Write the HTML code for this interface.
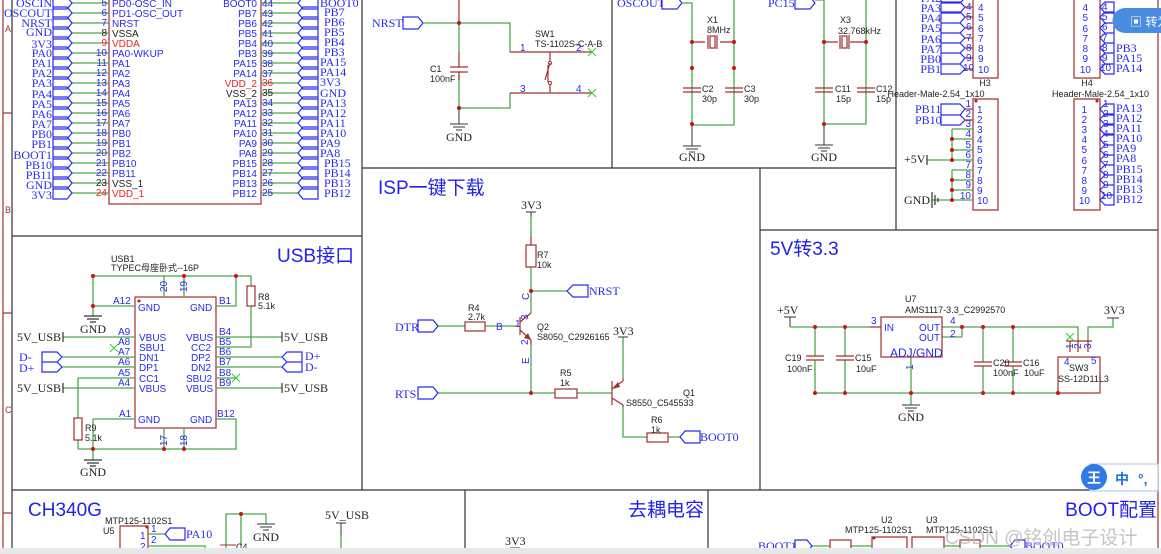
<!DOCTYPE html>
<html><head><meta charset="utf-8"><style>
html,body{margin:0;padding:0;background:#fff;width:1161px;height:554px;overflow:hidden}
svg{display:block}
.n{font-family:"Liberation Serif",serif;font-size:12px;fill:#2a2aee}
.p{font-family:"Liberation Sans","Noto Sans CJK SC",sans-serif;font-size:10px;fill:#2a2aee}
.s{font-family:"Liberation Sans","Noto Sans CJK SC",sans-serif;font-size:9px;fill:#222}
.k{font-family:"Liberation Serif",serif;font-size:12px;fill:#222}
.t{font-family:"Liberation Sans","Noto Sans CJK SC",sans-serif;font-size:19px;fill:#2222ee}
.w{stroke:#4aa84a;stroke-width:1.3;fill:none}
.m{stroke:#a03030;stroke-width:1.2;fill:none}
.b{stroke:#2a2aee;stroke-width:1.2;fill:#fff}
.d{fill:#cc1111}
.f{stroke:#333;stroke-width:1.2;fill:none}
</style></head><body>
<svg width="1161" height="554" viewBox="0 0 1161 554" xmlns="http://www.w3.org/2000/svg">
<!-- frame -->
<g class="f">
<line x1="3" y1="0" x2="3" y2="554" stroke="#a03030"/>
<line x1="12" y1="0" x2="12" y2="554"/>
<line x1="3" y1="113" x2="12" y2="113" stroke="#a03030"/>
<line x1="3" y1="313" x2="12" y2="313" stroke="#a03030"/>
<line x1="3" y1="513" x2="12" y2="513" stroke="#a03030"/>
<line x1="1158" y1="0" x2="1158" y2="554" stroke="#a03030"/>
<line x1="12" y1="236" x2="362" y2="236"/>
<line x1="362" y1="0" x2="362" y2="490"/>
<line x1="612" y1="0" x2="612" y2="168"/>
<line x1="362" y1="168" x2="896" y2="168"/>
<line x1="896" y1="0" x2="896" y2="230"/>
<line x1="760" y1="168" x2="760" y2="490"/>
<line x1="760" y1="230" x2="1158" y2="230"/>
<line x1="12" y1="490" x2="1158" y2="490"/>
<line x1="465" y1="490" x2="465" y2="554"/>
<line x1="708" y1="490" x2="708" y2="554"/>
</g>
<text x="5" y="32" class="s" style="fill:#a03030">A</text>
<text x="5" y="213" class="s" style="fill:#a03030">B</text>
<text x="5" y="413" class="s" style="fill:#a03030">C</text>

<!-- MCU -->
<rect x="109" y="-4" width="152" height="208" class="m"/>
<g class="w">
<path d="M72 3H109M72 13H109M72 23H109M72 33H109M72 43H109M72 53H109M72 63H109M72 73H109M72 83H109M72 93H109M72 103H109M72 113H109M72 123H109M72 133H109M72 143H109M72 153H109M72 163H109M72 173H109M72 183H109M72 193H109"/>
<path d="M261 3H298M261 13H298M261 23H298M261 33H298M261 43H298M261 53H298M261 63H298M261 73H298M261 83H298M261 93H298M261 103H298M261 113H298M261 123H298M261 133H298M261 143H298M261 153H298M261 163H298M261 173H298M261 183H298M261 193H298"/>
</g>
<g class="b">
<path d="M53 -3H67L72 3L67 9H53ZM53 7H67L72 13L67 19H53ZM53 17H67L72 23L67 29H53ZM53 27H67L72 33L67 39H53ZM53 37H67L72 43L67 49H53ZM53 47H67L72 53L67 59H53ZM53 57H67L72 63L67 69H53ZM53 67H67L72 73L67 79H53ZM53 77H67L72 83L67 89H53ZM53 87H67L72 93L67 99H53ZM53 97H67L72 103L67 109H53ZM53 107H67L72 113L67 119H53ZM53 117H67L72 123L67 129H53ZM53 127H67L72 133L67 139H53ZM53 137H67L72 143L67 149H53ZM53 147H67L72 153L67 159H53ZM53 157H67L72 163L67 169H53ZM53 167H67L72 173L67 179H53ZM53 177H67L72 183L67 189H53ZM53 187H67L72 193L67 199H53Z"/>
<path d="M318 -3H303L298 3L303 9H318ZM318 7H303L298 13L303 19H318ZM318 17H303L298 23L303 29H318ZM318 27H303L298 33L303 39H318ZM318 37H303L298 43L303 49H318ZM318 47H303L298 53L303 59H318ZM318 57H303L298 63L303 69H318ZM318 67H303L298 73L303 79H318ZM318 77H303L298 83L303 89H318ZM318 87H303L298 93L303 99H318ZM318 97H303L298 103L303 109H318ZM318 107H303L298 113L303 119H318ZM318 117H303L298 123L303 129H318ZM318 127H303L298 133L303 139H318ZM318 137H303L298 143L303 149H318ZM318 147H303L298 153L303 159H318ZM318 157H303L298 163L303 169H318ZM318 167H303L298 173L303 179H318ZM318 177H303L298 183L303 189H318ZM318 187H303L298 193L303 199H318Z"/>
</g>
<g class="n" text-anchor="end">
<text x="52" y="7">OSCIN</text><text x="52" y="17">OSCOUT</text><text x="52" y="27">NRST</text><text x="52" y="36">GND</text><text x="52" y="48">3V3</text><text x="52" y="57">PA0</text><text x="52" y="67">PA1</text><text x="52" y="77">PA2</text><text x="52" y="87">PA3</text><text x="52" y="98">PA4</text><text x="52" y="108">PA5</text><text x="52" y="118">PA6</text><text x="52" y="128">PA7</text><text x="52" y="138">PB0</text><text x="52" y="148">PB1</text><text x="52" y="159">BOOT1</text><text x="52" y="169">PB10</text><text x="52" y="179">PB11</text><text x="52" y="189">GND</text><text x="52" y="199">3V3</text>
</g>
<g class="n">
<text x="320" y="7">BOOT0</text><text x="324" y="16">PB7</text><text x="324" y="26">PB6</text><text x="324" y="36">PB5</text><text x="324" y="46">PB4</text><text x="324" y="56">PB3</text><text x="320" y="66">PA15</text><text x="320" y="76">PA14</text><text x="320" y="86">3V3</text><text x="320" y="97">GND</text><text x="320" y="107">PA13</text><text x="320" y="117">PA12</text><text x="320" y="127">PA11</text><text x="320" y="137">PA10</text><text x="320" y="147">PA9</text><text x="320" y="157">PA8</text><text x="324" y="167">PB15</text><text x="324" y="177">PB14</text><text x="324" y="187">PB13</text><text x="324" y="197">PB12</text>
</g>
<g class="p" text-anchor="end">
<text x="107" y="6">5</text><text x="107" y="16">6</text><text x="107" y="26">7</text><text x="107" y="36" style="fill:#222">8</text><text x="107" y="46" style="fill:#e22">9</text><text x="107" y="56">10</text><text x="107" y="66">11</text><text x="107" y="76">12</text><text x="107" y="86">13</text><text x="107" y="96">14</text><text x="107" y="106">15</text><text x="107" y="116">16</text><text x="107" y="126">17</text><text x="107" y="136">18</text><text x="107" y="146">19</text><text x="107" y="156">20</text><text x="107" y="166">21</text><text x="107" y="176">22</text><text x="107" y="186" style="fill:#222">23</text><text x="107" y="196" style="fill:#e22">24</text>
<text x="257" y="7">BOOT0</text><text x="257" y="17">PB7</text><text x="257" y="27">PB6</text><text x="257" y="37">PB5</text><text x="257" y="47">PB4</text><text x="257" y="57">PB3</text><text x="257" y="67">PA15</text><text x="257" y="77">PA14</text><text x="257" y="87" style="fill:#e22">VDD_2</text><text x="257" y="97" style="fill:#222">VSS_2</text><text x="257" y="107">PA13</text><text x="257" y="117">PA12</text><text x="257" y="127">PA11</text><text x="257" y="137">PA10</text><text x="257" y="147">PA9</text><text x="257" y="157">PA8</text><text x="257" y="167">PB15</text><text x="257" y="177">PB14</text><text x="257" y="187">PB13</text><text x="257" y="197">PB12</text>
</g>
<g class="p">
<text x="112" y="7">PD0-OSC_IN</text><text x="112" y="17">PD1-OSC_OUT</text><text x="112" y="27">NRST</text><text x="112" y="37" style="fill:#222">VSSA</text><text x="112" y="47" style="fill:#e22">VDDA</text><text x="112" y="57">PA0-WKUP</text><text x="112" y="67">PA1</text><text x="112" y="77">PA2</text><text x="112" y="87">PA3</text><text x="112" y="97">PA4</text><text x="112" y="107">PA5</text><text x="112" y="117">PA6</text><text x="112" y="127">PA7</text><text x="112" y="137">PB0</text><text x="112" y="147">PB1</text><text x="112" y="157">PB2</text><text x="112" y="167">PB10</text><text x="112" y="177">PB11</text><text x="112" y="187" style="fill:#222">VSS_1</text><text x="112" y="197" style="fill:#e22">VDD_1</text>
<text x="262" y="7">44</text><text x="262" y="17">43</text><text x="262" y="27">42</text><text x="262" y="37">41</text><text x="262" y="47">40</text><text x="262" y="57">39</text><text x="262" y="67">38</text><text x="262" y="77">37</text><text x="262" y="86" style="fill:#e22">36</text><text x="262" y="96" style="fill:#222">35</text><text x="262" y="106">34</text><text x="262" y="116">33</text><text x="262" y="126">32</text><text x="262" y="136">31</text><text x="262" y="146">30</text><text x="262" y="156">29</text><text x="262" y="166">28</text><text x="262" y="176">27</text><text x="262" y="186">26</text><text x="262" y="196">25</text>
</g>

<!-- USB -->
<text x="277" y="262" class="t">USB接口</text>
<text x="111" y="262" class="s">USB1</text><text x="111" y="271" class="s">TYPEC母座卧式--16P</text>
<rect x="135" y="297" width="81" height="131" class="m"/>
<circle cx="139" cy="301" r="1.5" class="d"/>
<g class="w">
<path d="M93 276H236V306H216M93 276V316M93 306H135M164 276V297M184 276V297M236 276H251V286M251 306V347H216"/>
<path d="M63 337H135M135 388H63M42 357H135M42 367H135M78 378H135M78 378V418M78 440V449H236V419H216M93 419H135M93 419V460M164 428V449M184 428V449"/>
<path d="M216 337H282M216 357H282M216 367H282M216 388H282M216 378H237"/>
</g>
<rect x="247" y="286" width="8" height="20" class="m"/>
<rect x="74" y="418" width="8" height="22" class="m"/>
<g class="d"><circle cx="93" cy="276" r="2"/><circle cx="184" cy="276" r="2"/><circle cx="236" cy="276" r="2"/><circle cx="93" cy="306" r="2"/><circle cx="93" cy="449" r="2"/><circle cx="164" cy="449" r="2"/><circle cx="184" cy="449" r="2"/></g>
<g stroke="#333" stroke-width="1.2"><path d="M84 316H102M87 319H99M90 322H96M84 460H102M87 463H99M90 466H96M63 332V342M63 383V393M282 332V342M282 383V393"/></g>
<g stroke="#3c3" stroke-width="1"><path d="M110 344L118 352M118 344L110 352M232 374L240 382M240 374L232 382"/></g>
<text x="93" y="333" class="k" text-anchor="middle">GND</text><text x="93" y="476" class="k" text-anchor="middle">GND</text>
<text x="17" y="341" class="k">5V_USB</text><text x="17" y="392" class="k">5V_USB</text><text x="284" y="341" class="k">5V_USB</text><text x="284" y="392" class="k">5V_USB</text>
<g class="b"><path d="M42 352H57L62 357L57 362H42ZM42 362H57L62 367L57 372H42ZM302 352H287L282 357L287 362H302ZM302 362H287L282 367L287 372H302Z"/></g>
<text x="19" y="361" class="n">D-</text><text x="19" y="372" class="n">D+</text><text x="305" y="360" class="n">D+</text><text x="305" y="371" class="n">D-</text>
<g class="p">
<text x="113" y="304">A12</text><text x="138" y="311">GND</text><text x="190" y="311">GND</text><text x="219" y="304">B1</text>
<text x="118" y="335">A9</text><text x="118" y="345">A8</text><text x="118" y="355">A7</text><text x="118" y="365">A6</text><text x="118" y="376">A5</text><text x="118" y="386">A4</text>
<text x="139" y="341">VBUS</text><text x="139" y="351">SBU1</text><text x="139" y="361">DN1</text><text x="139" y="371">DP1</text><text x="139" y="382">CC1</text><text x="139" y="392">VBUS</text>
<text x="186" y="341">VBUS</text><text x="191" y="351">CC2</text><text x="191" y="361">DP2</text><text x="191" y="371">DN2</text><text x="186" y="382">SBU2</text><text x="186" y="392">VBUS</text>
<text x="219" y="335">B4</text><text x="219" y="345">B5</text><text x="219" y="355">B6</text><text x="219" y="365">B7</text><text x="219" y="376">B8</text><text x="219" y="386">B9</text>
<text x="119" y="417">A1</text><text x="138" y="423">GND</text><text x="190" y="423">GND</text><text x="217" y="417">B12</text>
</g>
<text x="258" y="300" class="s">R8</text><text x="258" y="309" class="s">5.1k</text>
<text x="85" y="431" class="s">R9</text><text x="85" y="441" class="s">5.1k</text>
<g class="p"><text transform="translate(167,292) rotate(-90)">20</text><text transform="translate(187,292) rotate(-90)">19</text><text transform="translate(167,446) rotate(-90)">17</text><text transform="translate(187,446) rotate(-90)">18</text></g>

<!-- CH340G -->
<text x="28" y="516" class="t">CH340G</text>
<text x="105" y="524" class="s">MTP125-1102S1</text><text x="103" y="534" class="s">U5</text>
<path d="M120 554V526H148V554" class="m"/><circle cx="147" cy="527" r="1.5" class="d"/>
<path d="M148 534H165M148 546H205V554" class="w"/>
<path d="M185 528H170L165 534L170 540H185Z" class="b"/><text x="186" y="538" class="n">PA10</text>
<text x="151" y="532" class="p">1</text><text x="151" y="543" class="p">2</text><text x="140" y="539" class="p">1</text><text x="140" y="550" class="p">2</text>
<path d="M226 554V514H266V524M241 514V554" class="w"/><circle cx="241" cy="514" r="2" class="d"/>
<path d="M257 524H275M260 527H272M263 530H269" stroke="#333"/><text x="266" y="541" class="k" text-anchor="middle">GND</text>
<path d="M220 545H236M220 549H236" stroke="#a03030"/><text x="236" y="550" class="s">C4</text>
<text x="325" y="519" class="k">5V_USB</text><path d="M336 523H346M341 523V554" stroke="#333"/><path d="M341 535V554" class="w"/>

<!-- NRST/SW1 -->
<text x="372" y="27" class="n">NRST</text>
<path d="M403 17H418L423 23L418 29H403Z" class="b"/>
<g class="w"><path d="M423 23H510V52M459 23V52M459 75V108M459 108H510V93"/></g>
<path d="M459 0V23" class="m"/>
<path d="M510 52H592M510 93H592M450 67H468M450 72H468M459 52V67M459 72V80M550 52V61M550 85V93M548 65V82M550 63L545 80" class="m"/>
<circle cx="550" cy="63" r="1.6" fill="none" stroke="#a03030"/><circle cx="550" cy="83" r="1.6" fill="none" stroke="#a03030"/>
<g stroke="#3c3"><path d="M588 48L596 56M596 48L588 56M588 89L596 97M596 89L588 97"/></g>
<g class="d"><circle cx="459" cy="23" r="2"/><circle cx="459" cy="108" r="2"/></g>
<path d="M459 108V124M450 124H468M453 127H465M456 130H462" stroke="#333"/>
<text x="459" y="141" class="k" text-anchor="middle">GND</text>
<text x="430" y="72" class="s">C1</text><text x="430" y="82" class="s">100nF</text>
<text x="535" y="37" class="s">SW1</text><text x="535" y="47" class="s">TS-1102S-C-A-B</text>
<text x="520" y="51" class="p">1</text><text x="576" y="51" class="p">2</text><text x="520" y="92" class="p">3</text><text x="576" y="92" class="p">4</text>

<!-- X1 -->
<text x="617" y="7" class="n">OSCOUT</text>
<path d="M662 -3H677L682 3L677 9H662Z" class="b"/>
<path d="M682 3H692V125H734V0" class="w"/>
<path d="M692 42H705M720 42H734M708 35V49M717 35V49M683 88H701M683 92H701M725 88H743M725 92H743" class="m"/>
<rect x="710" y="36" width="5" height="12" class="m"/>
<g class="d"><circle cx="692" cy="42" r="2"/><circle cx="734" cy="42" r="2"/><circle cx="692" cy="68" r="2"/><circle cx="734" cy="68" r="2"/><circle cx="692" cy="124" r="2"/></g>
<path d="M692 125V146M683 146H701M686 149H698M689 152H695" stroke="#333"/>
<text x="692" y="161" class="k" text-anchor="middle">GND</text>
<text x="707" y="23" class="s">X1</text><text x="707" y="33" class="s">8MHz</text>
<text x="702" y="92" class="s">C2</text><text x="702" y="102" class="s">30p</text><text x="744" y="92" class="s">C3</text><text x="744" y="102" class="s">30p</text>

<!-- X3 -->
<text x="768" y="7" class="n">PC15</text>
<path d="M795 -3H810L815 3L810 9H795Z" class="b"/>
<path d="M815 0H824V124H866V0" class="w"/>
<path d="M824 42H838M850 42H866M840 35V49M849 35V49M815 88H833M815 92H833M857 88H875M857 92H875" class="m"/>
<rect x="842" y="36" width="5" height="12" class="m"/>
<g class="d"><circle cx="824" cy="42" r="2"/><circle cx="866" cy="42" r="2"/><circle cx="824" cy="124" r="2"/></g>
<path d="M824 124V145M815 145H833M818 148H830M821 151H827" stroke="#333"/>
<text x="824" y="161" class="k" text-anchor="middle">GND</text>
<text x="840" y="23" class="s">X3</text><text x="838" y="34" class="s">32.768kHz</text>
<text x="835" y="92" class="s">C11</text><text x="836" y="102" class="s">15p</text><text x="876" y="92" class="s">C12</text><text x="876" y="102" class="s">15p</text>

<!-- H1 -->
<path d="M973 -3V78H998V-3" class="m"/>
<g class="b"><path d="M941 -8H960L965 -2L960 3H941ZM941 2H960L965 7L960 13H941ZM941 12H960L965 17L960 23H941ZM941 23H960L965 28L960 33H941ZM941 33H960L965 38L960 43H941ZM941 43H960L965 48L960 53H941ZM941 53H960L965 58L960 64H941ZM941 64H960L965 69L960 74H941Z"/></g>
<path d="M965 -2H973M965 7H973M965 17H973M965 28H973M965 38H973M965 48H973M965 58H973M965 69H973" class="m"/>
<g class="n" text-anchor="end"><text x="941" y="2">PA2</text><text x="941" y="12">PA3</text><text x="941" y="22">PA4</text><text x="941" y="32">PA5</text><text x="941" y="43">PA6</text><text x="941" y="53">PA7</text><text x="941" y="63">PB0</text><text x="941" y="73">PB1</text></g>
<g class="p"><text x="966" y="10">4</text><text x="966" y="20">5</text><text x="966" y="30">6</text><text x="966" y="41">7</text><text x="966" y="51">8</text><text x="966" y="61">9</text><text x="963" y="71">10</text>
<text x="978" y="11">4</text><text x="978" y="21">5</text><text x="978" y="32">6</text><text x="978" y="42">7</text><text x="978" y="52">8</text><text x="978" y="62">9</text><text x="978" y="73">10</text></g>
<!-- H2 -->
<path d="M1074 -3V78H1100V-3" class="m"/>
<g class="b"><path d="M1114 2H1105L1100 7L1105 13H1114ZM1114 12H1105L1100 17L1105 23H1114ZM1114 23H1105L1100 28L1105 33H1114ZM1114 33H1105L1100 38L1105 43H1114ZM1114 43H1105L1100 48L1105 53H1114ZM1114 53H1105L1100 58L1105 64H1114ZM1114 64H1105L1100 69L1105 74H1114Z"/></g>
<g class="p" text-anchor="end"><text x="1088" y="11">4</text><text x="1088" y="21">5</text><text x="1088" y="32">6</text><text x="1088" y="42">7</text><text x="1088" y="52">8</text><text x="1088" y="62">9</text><text x="1091" y="73">10</text></g>
<g class="p"><text x="1102" y="10">4</text><text x="1102" y="20">5</text><text x="1102" y="30">6</text><text x="1102" y="41">7</text><text x="1102" y="51">8</text><text x="1102" y="61">9</text><text x="1100" y="71">10</text></g>
<g class="n"><text x="1116" y="52">PB3</text><text x="1116" y="62">PA15</text><text x="1116" y="72">PA14</text></g>
<!-- H3 -->
<text x="985" y="86" class="s" text-anchor="middle">H3</text><text x="936" y="97" class="s" text-anchor="middle">Header-Male-2.54_1x10</text>
<path d="M973 99H998V210H973Z" class="m"/><circle cx="976" cy="101" r="1.5" class="d"/>
<g class="b"><path d="M941 104H960L965 109L960 115H941ZM941 115H960L965 120L960 125H941Z"/></g>
<g class="w"><path d="M965 129H973M952 129V160M952 139H973M952 150H973M927 160H973M952 170V200M952 170H973M952 180H973M952 190H973M932 200H973M952 129H965"/></g>
<path d="M965 109H973M965 120H973" class="m"/>
<g class="d"><circle cx="952" cy="139" r="2"/><circle cx="952" cy="150" r="2"/><circle cx="952" cy="160" r="2"/><circle cx="952" cy="180" r="2"/><circle cx="952" cy="190" r="2"/><circle cx="952" cy="200" r="2"/></g>
<path d="M927 155V165M932 192V208M935 195V205M938 198V202" stroke="#333" stroke-width="1.2"/>
<text x="915" y="113" class="n">PB11</text><text x="915" y="124" class="n">PB10</text>
<text x="904" y="163" class="k">+5V</text><text x="904" y="204" class="k">GND</text>
<g class="p" text-anchor="end"><text x="971" y="107">1</text><text x="971" y="117">2</text><text x="971" y="127">3</text><text x="971" y="137">4</text><text x="971" y="148">5</text><text x="971" y="158">6</text><text x="971" y="168">7</text><text x="971" y="178">8</text><text x="971" y="188">9</text><text x="971" y="199">10</text></g>
<g class="p"><text x="977" y="113">1</text><text x="977" y="123">2</text><text x="977" y="133">3</text><text x="977" y="143">4</text><text x="977" y="153">5</text><text x="977" y="164">6</text><text x="977" y="174">7</text><text x="977" y="184">8</text><text x="977" y="194">9</text><text x="977" y="204">10</text></g>
<!-- H4 -->
<text x="1087" y="86" class="s" text-anchor="middle">H4</text><text x="1052" y="97" class="s">Header-Male-2.54_1x10</text>
<path d="M1074 99H1100V210H1074Z" class="m"/><circle cx="1097" cy="101" r="1.5" class="d"/>
<g class="b"><path d="M1114 104H1105L1100 109L1105 115H1114ZM1114 114H1105L1100 119L1105 125H1114ZM1114 124H1105L1100 129L1105 135H1114ZM1114 134H1105L1100 139L1105 145H1114ZM1114 145H1105L1100 150L1105 155H1114ZM1114 155H1105L1100 160L1105 165H1114ZM1114 165H1105L1100 170L1105 175H1114ZM1114 175H1105L1100 180L1105 185H1114ZM1114 185H1105L1100 190L1105 195H1114ZM1114 195H1105L1100 200L1105 205H1114Z"/></g>
<g class="n"><text x="1116" y="112">PA13</text><text x="1116" y="122">PA12</text><text x="1116" y="132">PA11</text><text x="1116" y="142">PA10</text><text x="1116" y="152">PA9</text><text x="1116" y="162">PA8</text><text x="1116" y="173">PB15</text><text x="1116" y="183">PB14</text><text x="1116" y="193">PB13</text><text x="1116" y="203">PB12</text></g>
<g class="p" text-anchor="end"><text x="1087" y="113">1</text><text x="1087" y="123">2</text><text x="1087" y="133">3</text><text x="1087" y="143">4</text><text x="1087" y="153">5</text><text x="1087" y="164">6</text><text x="1087" y="174">7</text><text x="1087" y="184">8</text><text x="1087" y="194">9</text><text x="1090" y="204">10</text></g>
<g class="p"><text x="1103" y="107">1</text><text x="1103" y="117">2</text><text x="1103" y="127">3</text><text x="1103" y="137">4</text><text x="1103" y="148">5</text><text x="1103" y="158">6</text><text x="1103" y="168">7</text><text x="1103" y="178">8</text><text x="1103" y="188">9</text><text x="1101" y="199">10</text></g>

<!-- ISP -->
<text x="378" y="194" class="t">ISP一键下载</text>
<text x="521" y="209" class="k">3V3</text>
<path d="M526 212H536M531 212V237" stroke="#333"/>
<g class="w"><path d="M531 217V236M531 267V313M531 291H567M531 345V393M438 326H465M485 326H518M438 393H555M577 393H612M623 337V378M623 407V437H647M668 437H680"/></g>
<rect x="526" y="245" width="10" height="22" class="m"/>
<rect x="465" y="322" width="20" height="9" class="m"/>
<rect x="555" y="389" width="22" height="9" class="m"/>
<rect x="647" y="433" width="21" height="9" class="m"/>
<path d="M520 317V335M531 313L520 322M520 330L531 340V345M612 381V405M612 389L623 381V378M612 398L623 405V407M531 236V245" class="m" stroke-width="1.6"/>
<path d="M531 340L524 338L528 333Z M612 389L618 382L620 387Z" fill="#a03030"/>
<g class="d"><circle cx="531" cy="291" r="2"/><circle cx="531" cy="393" r="2"/></g>
<path d="M588 285H573L567 291L573 297H588Z" class="b"/><text x="589" y="295" class="n">NRST</text>
<path d="M418 320H433L438 326L433 332H418Z" class="b"/><text x="395" y="331" class="n">DTR</text>
<path d="M418 387H433L438 393L433 399H418Z" class="b"/><text x="395" y="398" class="n">RTS</text>
<path d="M700 431H685L680 437L685 443H700Z" class="b"/><text x="700" y="441" class="n">BOOT0</text>
<text x="613" y="335" class="k">3V3</text><path d="M618 337H628" stroke="#333"/>
<text x="537" y="258" class="s">R7</text><text x="537" y="268" class="s">10k</text>
<text x="468" y="311" class="s">R4</text><text x="468" y="320" class="s">2.7k</text>
<text x="537" y="330" class="s">Q2</text><text x="537" y="340" class="s">S8050_C2926165</text>
<text x="560" y="376" class="s">R5</text><text x="560" y="386" class="s">1k</text>
<text x="683" y="396" class="s">Q1</text><text x="626" y="406" class="s">S8550_C545533</text>
<text x="651" y="423" class="s">R6</text><text x="651" y="433" class="s">1k</text>
<g class="p"><text x="496" y="330">B</text><text x="515" y="327">1</text><text transform="translate(529,300) rotate(-90)">C</text><text transform="translate(528,320) rotate(-90)">3</text><text transform="translate(528,345) rotate(-90)">2</text><text transform="translate(529,364) rotate(-90)">E</text></g>

<!-- 5V to 3.3 -->
<text x="770" y="255" class="t">5V转3.3</text>
<text x="777" y="314" class="k">+5V</text><path d="M784 317H796M790 317V327" stroke="#333"/>
<g class="w"><path d="M790 327H870M942 327H1078V341M942 337H962V327M1113 318V327H1088V341M815 327V356M815 360V393M845 327V356M845 360V393M983 327V362M983 366V393M1013 327V362M1013 366V393M815 393H1058M911 357V405"/></g>
<path d="M870 327H881M806 356H824M806 360H824M836 356H854M836 360H854M974 362H992M974 366H992M1004 362H1022M1004 366H1022" class="m"/>
<rect x="881" y="317" width="61" height="40" class="m"/>
<rect x="1058" y="357" width="42" height="36" class="m"/>
<path d="M1070 341V352M1078 341V352M1088 341V352M1066 341H1092" class="m"/>
<g stroke="#3c3"><path d="M1066 333L1074 341M1074 333L1066 341"/></g>
<g class="d"><circle cx="815" cy="327" r="2"/><circle cx="845" cy="327" r="2"/><circle cx="962" cy="327" r="2"/><circle cx="983" cy="327" r="2"/><circle cx="1013" cy="327" r="2"/><circle cx="815" cy="393" r="2"/><circle cx="845" cy="393" r="2"/><circle cx="911" cy="393" r="2"/><circle cx="983" cy="393" r="2"/><circle cx="1013" cy="393" r="2"/><circle cx="1058" cy="393" r="2"/></g>
<path d="M1107 318H1119" stroke="#333"/><text x="1104" y="314" class="k">3V3</text>
<path d="M902 405H920M905 408H917M908 411H914" stroke="#333"/><text x="911" y="421" class="k" text-anchor="middle">GND</text>
<text x="905" y="302" class="s">U7</text><text x="905" y="313" class="s">AMS1117-3.3_C2992570</text>
<g class="p"><text x="884" y="331">IN</text><text x="919" y="331">OUT</text><text x="919" y="341">OUT</text><text x="871" y="324">3</text><text x="950" y="324">4</text><text x="950" y="337">2</text><text x="1064" y="365">4</text><text x="1091" y="364">5</text><text transform="translate(913,370) rotate(-90)">1</text><text transform="translate(1073,349) rotate(-90)">1</text><text transform="translate(1081,349) rotate(-90)">2</text><text transform="translate(1091,349) rotate(-90)">3</text></g>
<text x="890" y="357" style="font-family:'Liberation Sans',sans-serif;font-size:12px;fill:#2a2aee">ADJ/GND</text>
<text x="1069" y="371" class="s">SW3</text><text x="1058" y="382" class="s">SS-12D11L3</text>
<text x="785" y="361" class="s">C19</text><text x="787" y="372" class="s">100nF</text><text x="855" y="361" class="s">C15</text><text x="856" y="372" class="s">10uF</text>
<text x="993" y="366" class="s">C20</text><text x="993" y="376" class="s">100nF</text><text x="1023" y="366" class="s">C16</text><text x="1024" y="376" class="s">10uF</text>

<!-- bottom -->
<text x="628" y="516" class="t">去耦电容</text>
<text x="505" y="545" class="k">3V3</text><path d="M510 548H520M515 548V554" stroke="#333"/>
<text x="1157" y="516" class="t" text-anchor="end">BOOT配置</text>
<text x="881" y="523" class="s">U2</text><text x="845" y="533" class="s">MTP125-1102S1</text>
<text x="926" y="523" class="s">U3</text><text x="926" y="533" class="s">MTP125-1102S1</text>
<path d="M872 554V537H907V554M912 554V537H944V554" class="m"/><circle cx="874" cy="538" r="1.5" class="d"/>
<path d="M812 546H830M851 546H872M944 546H960M980 546H1010" class="w"/>
<rect x="830" y="540" width="21" height="12" class="m"/><rect x="960" y="540" width="20" height="12" class="m"/>
<path d="M795 540H807L812 546L807 552H795Z" class="b"/><text x="758" y="550" class="n">BOOT1</text>
<path d="M1025 540H1015L1010 546L1015 552H1025Z" class="b"/><text x="1025" y="550" class="n">BOOT0</text>
<text x="945" y="544" style="font-family:'Liberation Sans','Noto Sans CJK SC',sans-serif;font-size:19px;fill:#bbb;opacity:0.85">CSDN @铭创电子设计</text>
<rect x="0" y="548" width="1161" height="6" fill="#e6e8ea"/>

<!-- overlays -->
<path d="M1125 8H1161V33H1125A12.5 12.5 0 0 1 1125 8Z" fill="#4a8de0"/>
<text x="1130" y="26" style="font-family:'Liberation Sans','Noto Sans CJK SC',sans-serif;font-size:12px;fill:#fff">▣ 转为</text>
<rect x="1090" y="464" width="68" height="27" fill="#fff" stroke="#a8c0e8"/>
<circle cx="1094" cy="477" r="13" fill="#2f7ae5"/>
<text x="1087" y="483" style="font-family:'Noto Sans CJK SC',sans-serif;font-size:14px;font-weight:bold;fill:#fff">王</text>
<text x="1115" y="484" style="font-family:'Noto Sans CJK SC',sans-serif;font-size:14px;font-weight:bold;fill:#1f6fe0">中</text>
<text x="1138" y="484" style="font-family:'Liberation Sans',sans-serif;font-size:14px;font-weight:bold;fill:#1f6fe0">°,</text>
</svg>
</body></html>
